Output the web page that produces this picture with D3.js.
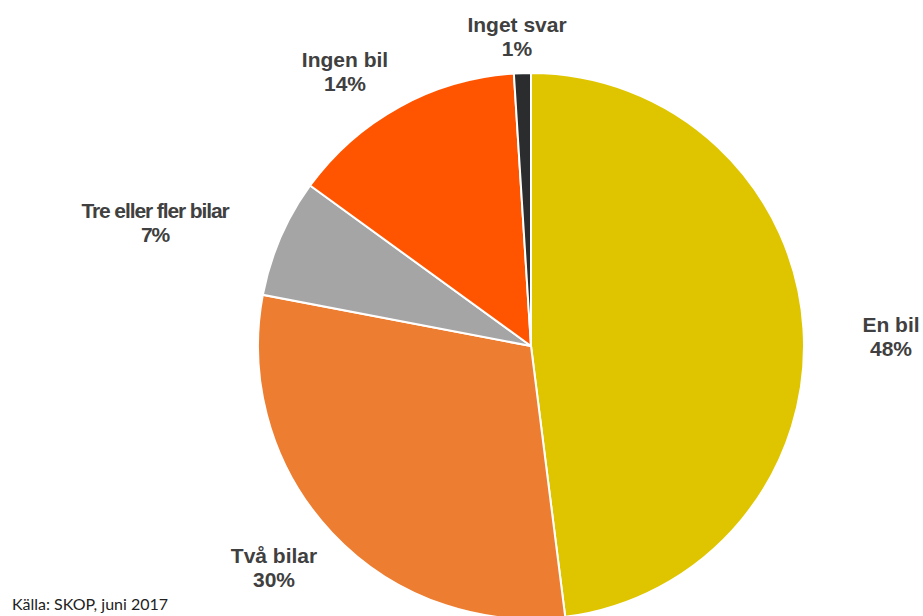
<!DOCTYPE html>
<html>
<head>
<meta charset="utf-8">
<script src="https://cdn.jsdelivr.net/npm/d3@7"></script>
<style>
  body { margin: 0; background: #fff; }
  svg { display: block; }
</style>
</head>
<body>
<script>
// data
var categories = ["En bil", "Två bilar", "Tre eller fler bilar", "Ingen bil", "Inget svar"];
var values = [48, 30, 7, 14, 1];
var colors = ["#DFC500", "#ED7D31", "#A5A5A5", "#FF5500", "#2A2C2E"];
var source = "Källa: SKOP, juni 2017";

var width = 923, height = 616;
var cx = 531, cy = 346, radius = 273;

// label placement (Excel "best fit"), offsets from the pie centre
var labelOffset = [[360, -14], [-257, 217], [-376, -128], [-186, -279], [-14, -314]];

var data = categories.map(function(c, i) {
  return {name: c, value: values[i], color: colors[i], off: labelOffset[i]};
});

var svg = d3.select("body").append("svg")
    .attr("width", width)
    .attr("height", height);

var g = svg.append("g")
    .attr("transform", "translate(" + cx + "," + cy + ")");

var pie = d3.pie()
    .sort(null)
    .value(function(d) { return d.value; });

var arc = d3.arc()
    .innerRadius(0)
    .outerRadius(radius);

var arcs = pie(data);

g.selectAll("path")
    .data(arcs)
  .enter().append("path")
    .attr("d", arc)
    .style("fill", function(d) { return d.data.color; })
    .style("stroke", "#fff")
    .style("stroke-width", 2);

var labels = g.selectAll("text.label")
    .data(arcs)
  .enter().append("text")
    .attr("class", "label")
    .attr("transform", function(d) {
      return "translate(" + d.data.off[0] + "," + d.data.off[1] + ")";
    })
    .style("font-family", "'Liberation Sans', Arial, sans-serif")
    .style("font-weight", "bold")
    .style("font-size", "21px")
    .style("fill", "#404040")
    .style("text-anchor", "middle")
    .style("letter-spacing", function(d) { return d.data.name.length > 12 ? "-1.1px" : "0px"; });

labels.append("tspan")
    .attr("x", 0)
    .attr("y", 0)
    .text(function(d) { return d.data.name; });

labels.append("tspan")
    .attr("x", 0)
    .attr("y", 24)
    .text(function(d) { return d.value + "%"; });

svg.append("text")
    .attr("x", 12)
    .attr("y", 610)
    .style("font-family", "Lato, 'Open Sans', sans-serif")
    .style("font-size", "16px")
    .style("fill", "#222")
    .text(source);
</script>
</body>
</html>
